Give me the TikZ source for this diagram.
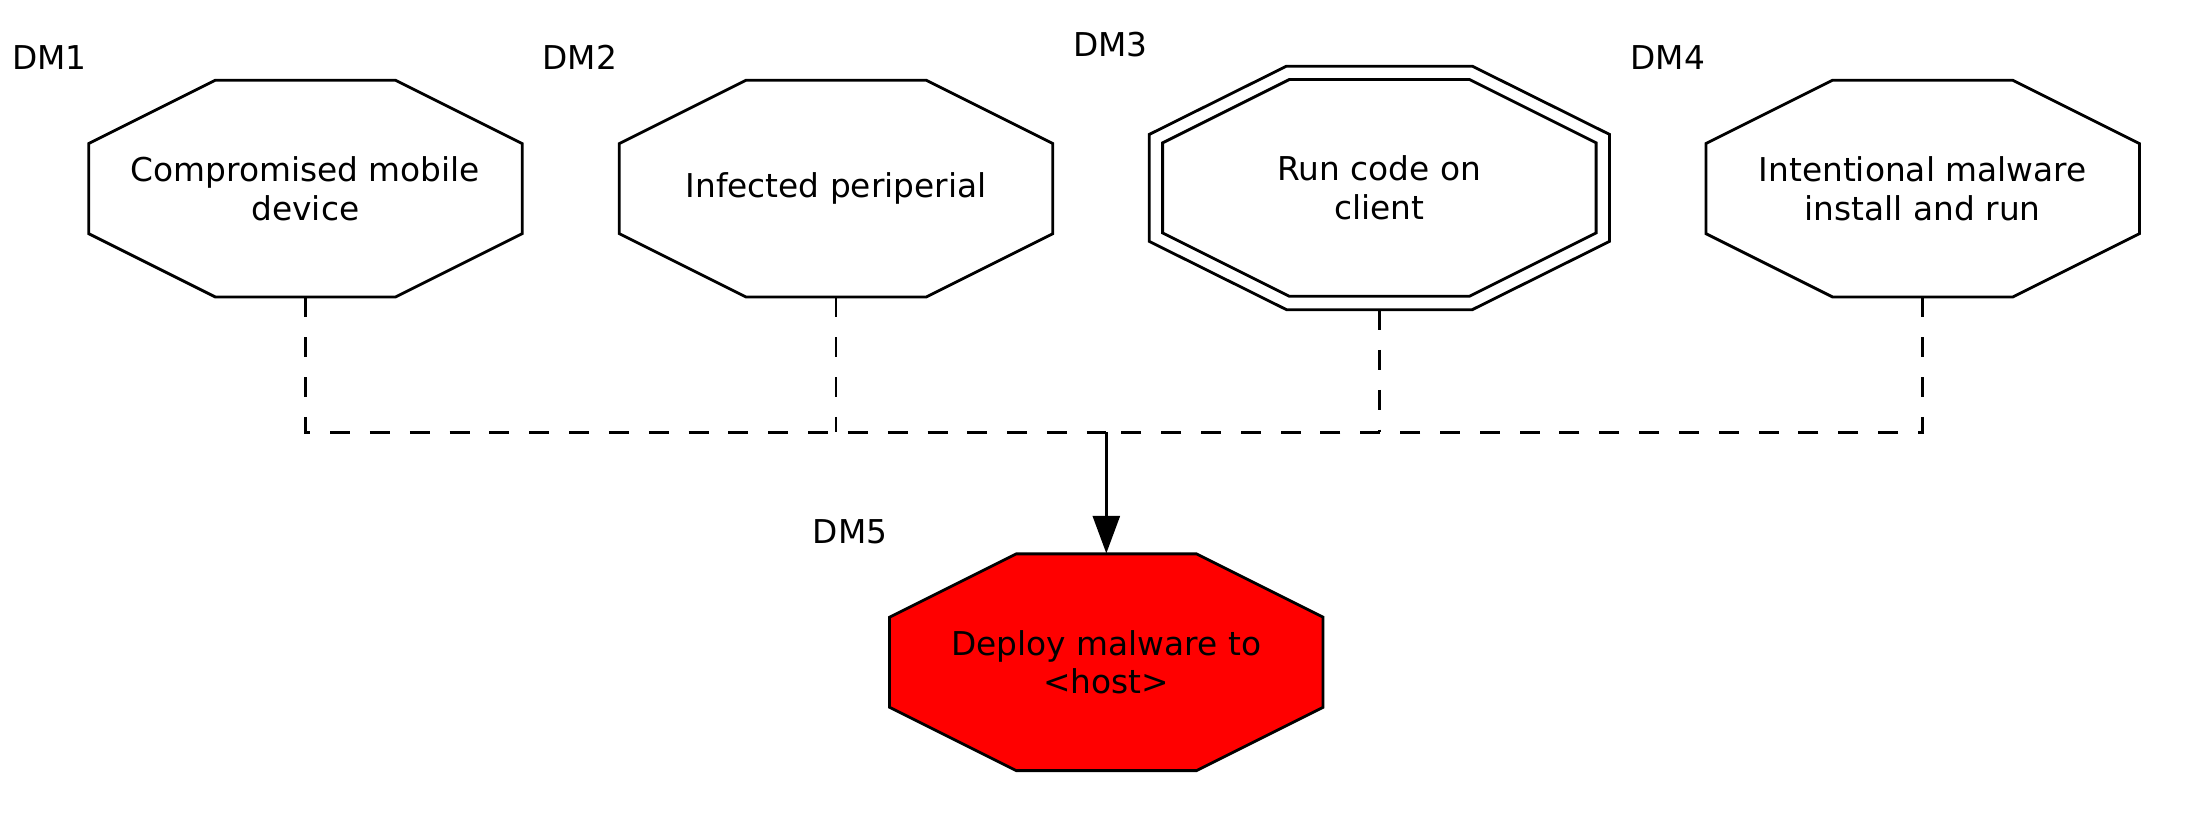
\documentclass[tikz,border=0pt]{standalone}
\usepackage{fontspec}
\setmainfont{DejaVu Sans}
\usetikzlibrary{arrows.meta,backgrounds}
\newcommand\octshape[6][]{%
  \draw[oct,#1,shift={(#2.center)}] (-#5,-#4) -- (#5,-#4) -- (#3,-#6) -- (#3,#6) -- (#5,#4) -- (-#5,#4) -- (-#3,#6) -- (-#3,-#6) -- cycle;}
\begin{document}
\begin{tikzpicture}[x=0.6007pt,y=-0.6007pt,
  lbl/.style={font=\fontsize{14}{16.5}\selectfont, inner sep=0pt},
  txt/.style={font=\fontsize{14}{16.5}\selectfont, align=center, inner sep=0pt,
    minimum width=185pt, minimum height=92.5pt},
  oct/.style={line width=1.2pt, line join=miter},
  conn/.style={line width=1.2pt, dash pattern=on 8.5pt off 8.5pt},
  arr/.style={line width=1.2pt, -{Triangle[length=16pt,width=11.5pt]}}
]
\useasboundingbox (0,0) rectangle (1568,594.7);
% nodes
\node[txt] (dm1) at (217,134) {Compromised mobile\\device};
\node[txt] (dm2) at (594,134) {Infected periperial};
\node[txt, minimum width=196.4pt, minimum height=103.9pt] (dm3) at (980,133.5) {Run code on\\client};
\node[txt] (dm4) at (1366,134) {Intentional malware\\install and run};
\node[txt] (dm5) at (786,470.5) {Deploy malware to\\<host>};
% labels
\node[lbl] (l1) at (35,41) {DM1};
\node[lbl] (l2) at (412,41) {DM2};
\node[lbl] (l3) at (789,32) {DM3};
\node[lbl] (l4) at (1185,41) {DM4};
\node[lbl] (l5) at (604,378) {DM5};
% shapes
\begin{scope}[on background layer]
  \fill[white] (0,0) rectangle (1568,594.7);
  \octshape{dm1}{154}{77}{64}{32}
  \octshape{dm2}{154}{77}{64}{32}
  \octshape{dm3}{154}{77}{64}{32}
  \octshape{dm3}{163.5}{86.5}{66}{38}
  \octshape{dm4}{154}{77}{64}{32}
  \octshape[fill=red]{dm5}{154}{77}{64}{32}
\end{scope}
% connectors
\coordinate (j) at (786,307);
\draw[conn] (dm1.south) |- (j);
\draw[conn] (dm4.south) |- (j);
\draw[conn] (dm2.south) -- (dm2.south |- j);
\draw[conn] (dm3.south) -- (dm3.south |- j);
\draw[arr] (j) -- (dm5.north);
\end{tikzpicture}
\end{document}
